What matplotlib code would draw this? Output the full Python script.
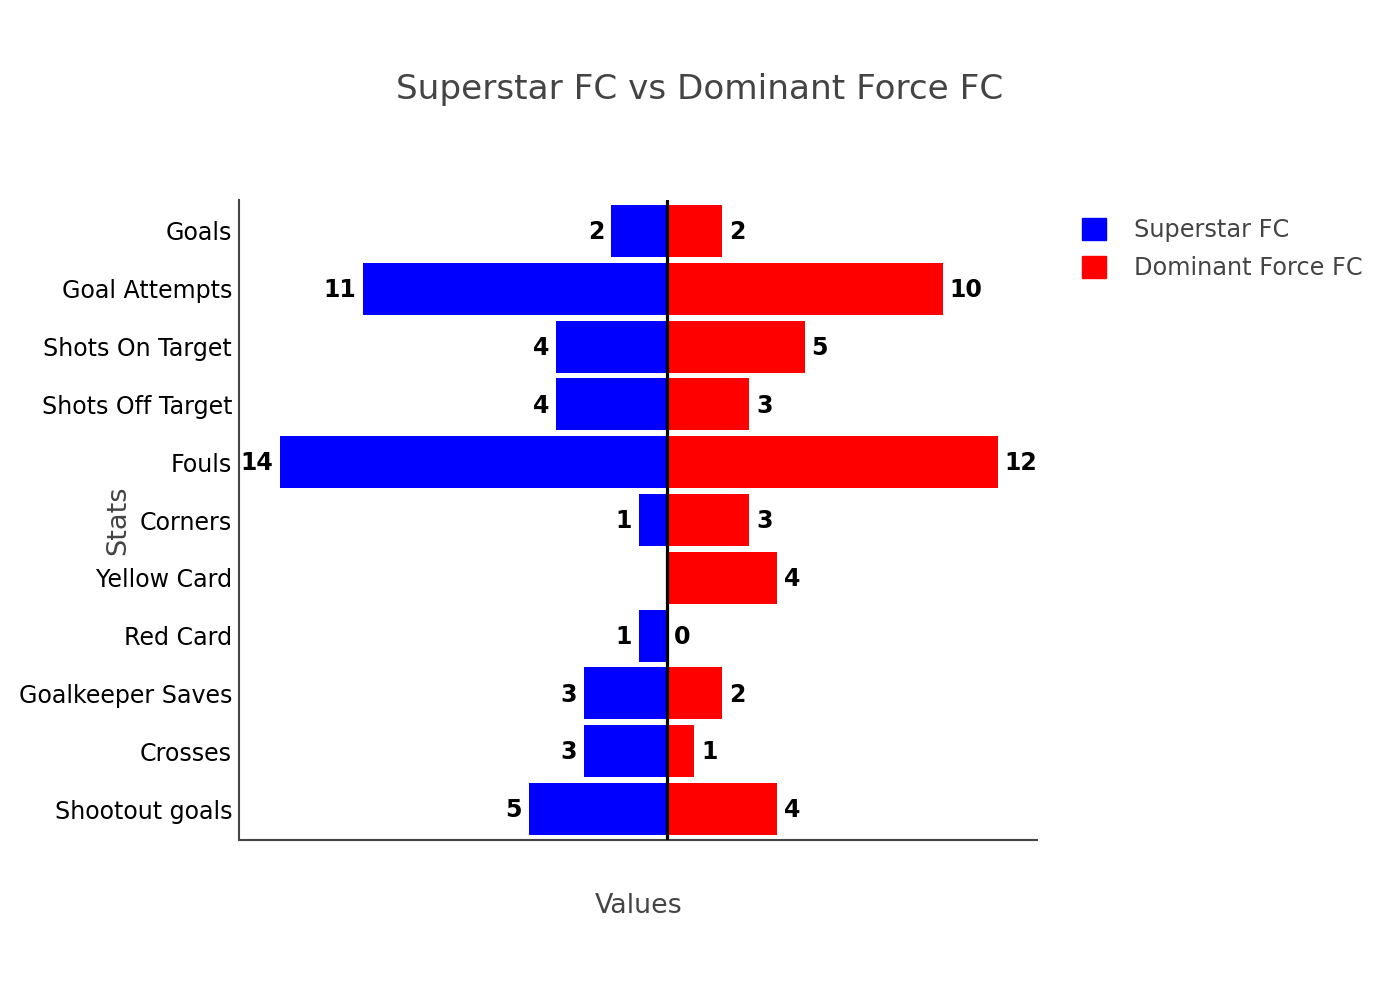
import matplotlib
matplotlib.use("Agg")
import matplotlib.pyplot as plt
import numpy as np
from matplotlib.patches import Patch

plt.rcParams['font.family'] = ['DejaVu Sans']

categories = ["Goals", "Goal Attempts", "Shots On Target", "Shots Off Target", "Fouls",
              "Corners", "Yellow Card", "Red Card", "Goalkeeper Saves", "Crosses", "Shootout goals"]
superstar = [2, 11, 4, 4, 14, 1, None, 1, 3, 3, 5]
dominant = [2, 10, 5, 3, 12, 3, 4, 0, 2, 1, 4]
team_names = ["Superstar FC", "Dominant Force FC"]
title = "Superstar FC vs Dominant Force FC"

W, H = 1400, 1000
fig = plt.figure(figsize=(W / 100, H / 100), dpi=100)
ax = fig.add_axes([239 / W, 1 - 840 / H, (1037 - 239) / W, (840 - 200) / H])

y = np.arange(len(categories))
s_vals = np.array([np.nan if v is None else v for v in superstar], dtype=float)
d_vals = np.array(dominant, dtype=float)

ax.barh(y, -np.nan_to_num(s_vals), height=0.9, color='#0000ff', zorder=2)
ax.barh(y, d_vals, height=0.9, color='#ff0000', zorder=2)

for i in range(len(categories)):
    if not np.isnan(s_vals[i]):
        ax.annotate(f"{int(s_vals[i])}", (-s_vals[i], y[i]), xytext=(-5, -0.8), textcoords='offset points',
                    ha='right', va='center', fontsize=17, fontweight='bold', color='black')
    ax.annotate(f"{int(d_vals[i])}", (d_vals[i], y[i]), xytext=(5, -0.8), textcoords='offset points',
                ha='left', va='center', fontsize=17, fontweight='bold', color='black')

ax.axvline(0, color='black', linewidth=2.3, zorder=3)

ax.set_xlim(-15.49, 13.42)
ax.set_ylim(10.536, -0.536)
ax.set_yticks(y)
ax.set_yticklabels(categories, fontsize=17.1, color='black')
ax.set_xticks([])
ax.tick_params(axis='y', length=0, pad=5)
for side in ['top', 'right']:
    ax.spines[side].set_visible(False)
for side in ['left', 'bottom']:
    ax.spines[side].set_color('#444444')
    ax.spines[side].set_linewidth(1.5)

fig.text(700 / W, 1 - 89 / H, title, ha='center', va='center', fontsize=24.7, color='#444444')
fig.text(639 / W, 1 - 906 / H, "Values", ha='center', va='center', fontsize=19.4, color='#444444')
fig.text(118 / W, 1 - 520 / H, "Stats", ha='center', va='center', rotation=90, fontsize=19.6, color='#444444')

handles = [Patch(color='#0000ff'), Patch(color='#ff0000')]
fig.legend(handles, team_names, loc='upper left', bbox_to_anchor=(1082 / W, 1 - 218 / H),
           frameon=False, fontsize=17.3, handlelength=1.0, handleheight=1.05,
           handletextpad=1.15, labelspacing=0.55, labelcolor='#444444', borderpad=0, borderaxespad=0)

fig.savefig("out.png", dpi=100)
